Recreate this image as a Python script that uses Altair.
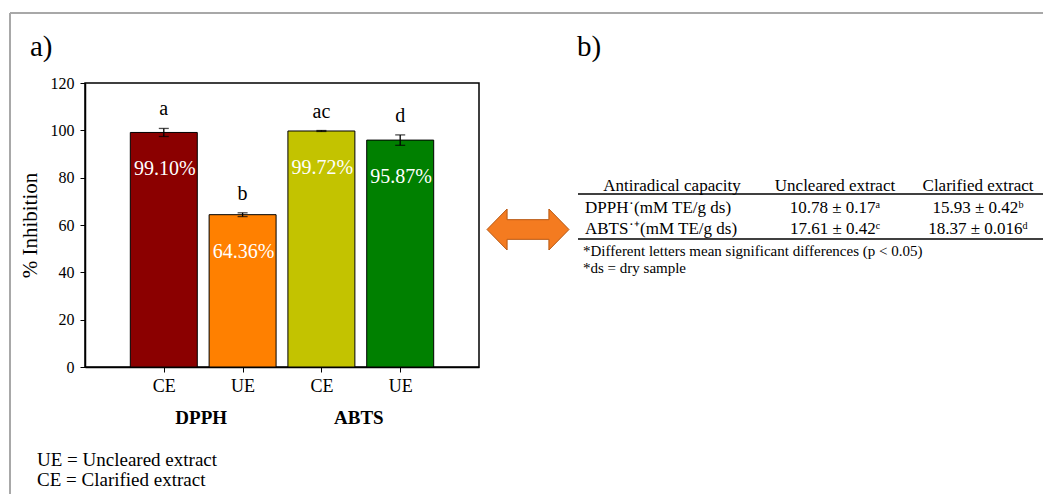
import altair as alt
import pandas as pd

# ---- bar chart data (panel a) ----
groups = ["DPPH", "DPPH", "ABTS", "ABTS"]
extracts = ["CE", "UE", "CE", "UE"]
positions = [1, 2, 3, 4]
inhibition = [99.10, 64.36, 99.72, 95.87]
errors = [1.7, 0.8, 0.2, 2.2]
letters = ["a", "b", "ac", "d"]
value_labels = ["99.10%", "64.36%", "99.72%", "95.87%"]
colors = ["#8B0000", "#FF8000", "#C3C300", "#008000"]

group_names = ["DPPH", "ABTS"]
group_positions = [1.5, 3.5]

# ---- table data (panel b) ----
table_header = ["Antiradical  capacity", "Uncleared  extract", "Clarified  extract"]
row_labels = ["DPPH\u02d9(mM TE/g ds)", "ABTS\u02d9\u207a(mM  TE/g ds)"]
uncleared = ["10.78 \u00b1 0.17\u1d43", "17.61 \u00b1 0.42\u1d9c"]
clarified = ["15.93 \u00b1 0.42\u1d47", "18.37 \u00b1 0.016\u1d48"]
table_notes = ["*Different  letters  mean  significant  differences (p < 0.05)",
               "*ds = dry sample"]
legend_notes = ["UE = Uncleared extract", "CE = Clarified extract"]

FONT = "Liberation Serif"

df = pd.DataFrame({
    "group": groups, "extract": extracts, "pos": positions,
    "value": inhibition, "err": errors, "letter": letters,
    "vlabel": value_labels, "color": colors,
})
df["lo"] = df["value"] - df["err"]
df["hi"] = df["value"] + df["err"]
df["x1"] = df["pos"] - 0.425
df["x2"] = df["pos"] + 0.425

W, H = 394, 284

xscale = alt.Scale(domain=[0, 5], nice=False)
yscale = alt.Scale(domain=[0, 120], nice=False)

base = alt.Chart(df)

bars = base.mark_bar(stroke="black", strokeWidth=1).encode(
    x=alt.X("x1:Q", scale=xscale,
            axis=alt.Axis(values=positions, labelExpr="datum.value % 2 == 1 ? 'CE' : 'UE'",
                          title=None)),
    x2="x2:Q",
    y=alt.Y("value:Q", scale=yscale,
            axis=alt.Axis(values=[0, 20, 40, 60, 80, 100, 120], title="% Inhibition")),
    y2=alt.datum(0),
    color=alt.Color("color:N", scale=None),
)

err_rule = base.mark_rule(color="black", strokeWidth=1.3).encode(
    x="pos:Q", y="lo:Q", y2="hi:Q")
err_top = base.mark_tick(color="black", orient="horizontal", size=10, thickness=1.3).encode(
    x="pos:Q", y="hi:Q")
err_bot = base.mark_tick(color="black", orient="horizontal", size=10, thickness=1.3).encode(
    x="pos:Q", y="lo:Q")

letter_text = base.mark_text(font=FONT, fontSize=20, color="black", baseline="bottom", dy=-9).encode(
    x="pos:Q", y="hi:Q", text="letter:N")
value_text = base.mark_text(font=FONT, fontSize=20, color="white", baseline="middle", dy=37, dx=1).encode(
    x="pos:Q", y="value:Q", text="vlabel:N")

gdf = pd.DataFrame({"g": group_names, "p": group_positions})
group_text = alt.Chart(gdf).mark_text(font=FONT, fontSize=19, fontWeight="bold", color="black",
                                      baseline="middle", dx=-2).encode(
    x="p:Q", y=alt.value(335), text="g:N")


def label(text, x, y, size=15, align="left", weight="normal", color="black", baseline="middle"):
    return alt.Chart(pd.DataFrame({"t": [text]})).mark_text(
        font=FONT, fontSize=size, align=align, baseline=baseline,
        fontWeight=weight, color=color).encode(
        text="t:N", x=alt.value(x), y=alt.value(y))


def hline(x1, x2, y, color="black", width=1.3):
    return alt.Chart(pd.DataFrame({"a": [0]})).mark_rule(color=color, strokeWidth=width).encode(
        x=alt.value(x1), x2=alt.value(x2), y=alt.value(y))


def vline(x, y1, y2, color="black", width=1.3):
    return alt.Chart(pd.DataFrame({"a": [0]})).mark_rule(color=color, strokeWidth=width).encode(
        x=alt.value(x), y=alt.value(y1), y2=alt.value(y2))


layers = [bars, err_rule, err_top, err_bot, letter_text, value_text, group_text]

# outer gray frame
layers.append(hline(-75, 960, -70, color="#a8a8a8", width=2))
layers.append(vline(-75, -70, 420, color="#a8a8a8", width=2))

# panel labels
layers.append(label("a)", -55, -36, size=29))
layers.append(label("b)", 492, -36, size=29))

# legend notes
layers.append(label(legend_notes[0], -48, 383, size=19, baseline="alphabetic"))
layers.append(label(legend_notes[1], -48, 403, size=19, baseline="alphabetic"))

# arrow
arrow_path = ("M -1 0 L -0.51 -0.5 L -0.51 -0.24 L 0.51 -0.24 L 0.51 -0.5 L 1 0 "
              "L 0.51 0.5 L 0.51 0.24 L -0.51 0.24 L -0.51 0.5 Z")
layers.append(alt.Chart(pd.DataFrame({"a": [0]})).mark_point(
    shape=arrow_path, filled=True, fill="#F47B20", stroke="#B8560F", strokeWidth=1,
    opacity=1, size=82 * 82).encode(x=alt.value(443), y=alt.value(146.5)))

# table
col_centers = [587, 750, 893]
for t, cx in zip(table_header, col_centers):
    layers.append(label(t, cx, 103, size=17, align="center"))
layers.append(hline(493, 960, 111))
row_ys = [125, 146]
for i, ry in enumerate(row_ys):
    layers.append(label(row_labels[i], 500, ry, size=17))
    layers.append(label(uncleared[i], col_centers[1], ry, size=17, align="center"))
    layers.append(label(clarified[i], col_centers[2], ry, size=17, align="center"))
layers.append(hline(493, 960, 156))
layers.append(label(table_notes[0], 498, 168, size=15))
layers.append(label(table_notes[1], 498, 185, size=15))

chart = alt.layer(*layers).properties(
    width=W, height=H,
    background="white",
    autosize=alt.AutoSizeParams(type="none"),
    padding={"left": 77, "top": 75, "right": 564, "bottom": 127},
).configure_view(stroke="black", strokeWidth=1.5).configure_axis(
    grid=False, labelFont=FONT, titleFont=FONT, labelColor="black", titleColor="black",
    domainColor="black", domainWidth=1.5, tickColor="black", tickSize=5, tickWidth=1,
    labelPadding=6, titleFontWeight="normal",
).configure_axisX(labelFontSize=18, labelPadding=5).configure_axisY(
    labelFontSize=16, titleFontSize=21, titlePadding=10)

chart.save("out.html", embed_options={"renderer": "svg", "actions": False})
